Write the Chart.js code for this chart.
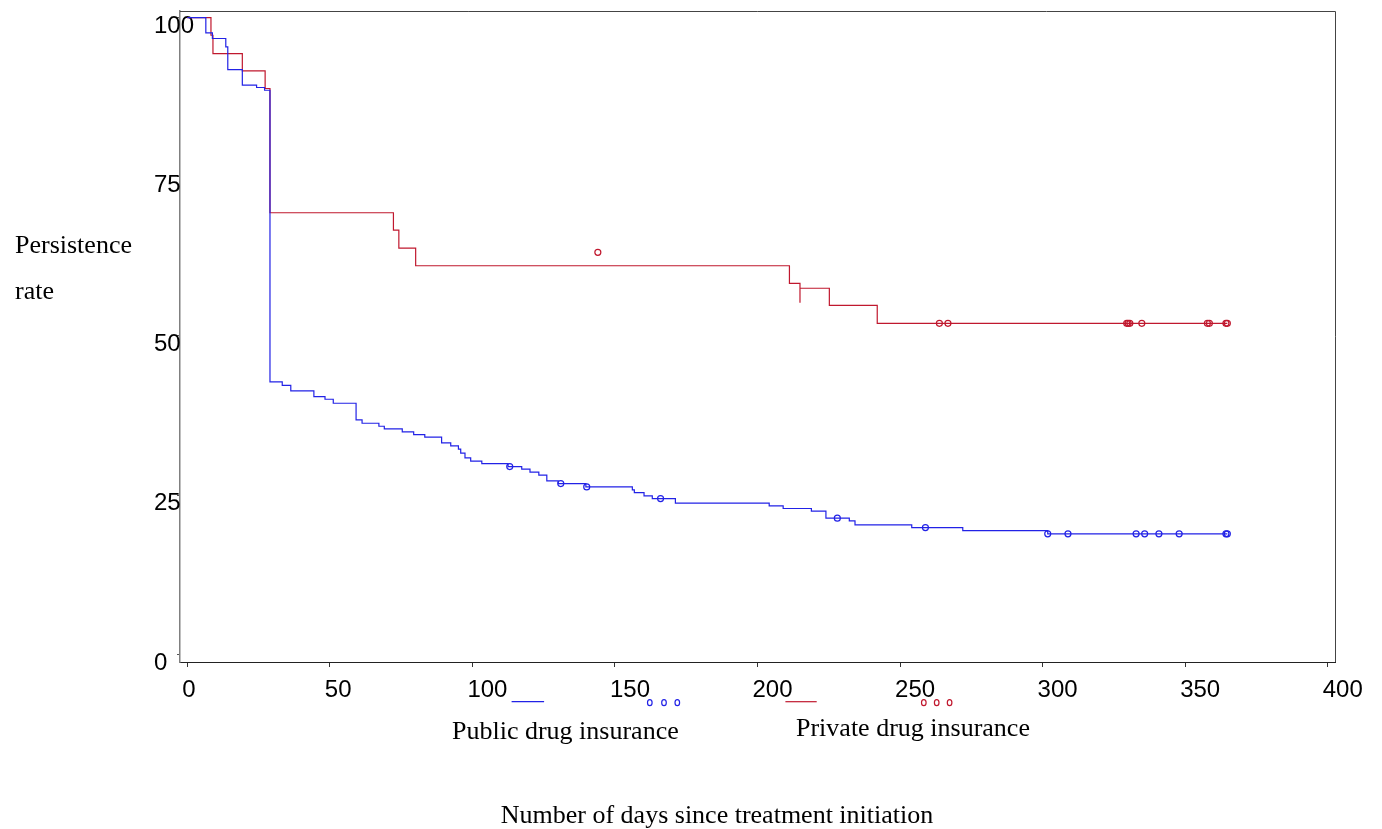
<!DOCTYPE html>
<html>
<head>
<meta charset="utf-8">
<title>Persistence rate by drug insurance</title>
<script src="https://cdn.jsdelivr.net/npm/chart.js@4.4.1/dist/chart.umd.min.js"></script>
<style>
  html, body { margin: 0; padding: 0; background: #fff; }
  #wrap { position: relative; width: 1382px; height: 829px; }
</style>
</head>
<body>
<div id="wrap"><canvas id="mychart" width="1382" height="829"></canvas></div>
<script>
// Kaplan-Meier steps (day, persistence %)
var publicDays = [0, 6.5, 8.8, 13.5, 14.2, 19.3, 24.3, 27.1, 29.0, 33.3, 36.3, 44.4, 48.3, 51.2,
  59.2, 61.3, 67.2, 69.1, 75.4, 79.4, 83.3, 89.2, 92.4, 95.1, 95.9, 97.4, 99.4, 103.3, 112.5,
  117.3, 120.2, 123.3, 126.1, 130.1, 139.8, 156.1, 156.8, 160.2, 163.1, 171.2, 204.1, 209.0,
  218.9, 224.0, 232.2, 234.2, 254.1, 272.0, 301.8, 364.8];
var publicRate = [100, 97.58, 96.71, 95.39, 91.84, 89.38, 89.02, 88.59, 42.78, 42.26, 41.37, 40.48, 40.07, 39.44,
  36.82, 36.30, 35.83, 35.41, 34.94, 34.52, 34.11, 33.22, 32.74, 32.22, 31.60, 30.86, 30.34, 29.97, 29.50,
  29.09, 28.62, 28.14, 27.25, 26.83, 26.30, 25.84, 25.42, 24.90, 24.47, 23.75, 23.33, 22.91,
  22.50, 21.40, 20.98, 20.35, 19.92, 19.45, 18.94, 18.94];
var publicCensorDays = [113.1, 131.0, 140.1, 166.0, 228.0, 258.9, 301.8, 308.9, 332.8, 335.8, 340.8, 347.9, 364.3, 364.8];
var publicCensorRate = [29.50, 26.83, 26.30, 24.47, 21.40, 19.92, 18.94, 18.94, 18.94, 18.94, 18.94, 18.94, 18.94, 18.94];

var privateDays = [0, 8.3, 9.0, 19.3, 27.3, 29.0, 72.3, 74.2, 80.1, 211.2, 214.9, 214.9, 225.2, 242.0, 364.8];
var privateRate = [100, 97.22, 94.35, 91.62, 88.86, 69.35, 66.63, 63.81, 61.03, 58.27, 55.22, 57.50, 54.82, 51.99, 51.99];
var privateCensorDays = [144.0, 263.8, 266.8, 329.5, 330.0, 330.6, 334.8, 357.8, 358.5, 364.3, 364.8];
var privateCensorRate = [63.13, 51.99, 51.99, 51.99, 51.99, 51.99, 51.99, 51.99, 51.99, 51.99, 51.99];

var xTicks = [0, 50, 100, 150, 200, 250, 300, 350, 400];
var yTicks = [0, 25, 50, 75, 100];
var seriesNames = ['Public drug insurance', 'Private drug insurance'];

var blue = '#2222e6';
var red = '#c0182e';

function toPoints(xs, ys) {
  return xs.map(function(x, i) { return {x: x, y: ys[i]}; });
}

// frame (top + right) and the SAS-like legend / titles
var extras = {
  id: 'extras',
  afterDraw: function(chart) {
    var ctx = chart.ctx;
    var a = chart.chartArea;
    ctx.save();
    ctx.strokeStyle = '#444';
    ctx.lineWidth = 1;
    ctx.beginPath();
    ctx.moveTo(a.left, a.top + 0.5);
    ctx.lineTo(a.right + 0.5, a.top + 0.5);
    ctx.lineTo(a.right + 0.5, a.bottom);
    ctx.stroke();

    // legend samples
    var items = [
      {color: blue, line: [511.6, 544.1], y: 701.7, dots: [649.8, 664, 677.3], text: seriesNames[0], tx: 452, ty: 739},
      {color: red, line: [785.4, 816.7], y: 701.7, dots: [923.8, 936.7, 949.6], text: seriesNames[1], tx: 796, ty: 736}
    ];
    items.forEach(function(it) {
      ctx.strokeStyle = it.color;
      ctx.lineWidth = 1.2;
      ctx.beginPath();
      ctx.moveTo(it.line[0], it.y);
      ctx.lineTo(it.line[1], it.y);
      ctx.stroke();
      it.dots.forEach(function(dx) {
        ctx.beginPath();
        ctx.ellipse(dx, it.y + 1, 2.3, 3, 0, 0, Math.PI * 2);
        ctx.stroke();
      });
      ctx.fillStyle = '#000';
      ctx.font = '26px "Liberation Serif", "Times New Roman", serif';
      ctx.textAlign = 'left';
      ctx.textBaseline = 'alphabetic';
      ctx.fillText(it.text, it.tx, it.ty);
    });

    ctx.fillStyle = '#000';
    ctx.font = '26px "Liberation Serif", "Times New Roman", serif';
    ctx.textAlign = 'left';
    ctx.fillText('Persistence', 15, 253);
    ctx.fillText('rate', 15, 299);
    ctx.textAlign = 'center';
    ctx.fillText('Number of days since treatment initiation', 717, 823);
    ctx.restore();
  }
};

var ctx = document.getElementById('mychart');
var myChart = new Chart(ctx, {
  type: 'line',
  data: {
    datasets: [
      {
        label: seriesNames[0],
        data: toPoints(publicDays, publicRate),
        borderColor: blue,
        borderWidth: 1.2,
        stepped: 'before',
        pointRadius: 0,
        fill: false
      },
      {
        label: seriesNames[1],
        data: toPoints(privateDays, privateRate),
        borderColor: red,
        borderWidth: 1.2,
        stepped: 'before',
        pointRadius: 0,
        fill: false
      },
      {
        type: 'scatter',
        label: seriesNames[0] + ' censored',
        data: toPoints(publicCensorDays, publicCensorRate),
        borderColor: blue,
        backgroundColor: 'rgba(0,0,0,0)',
        pointRadius: 3,
        pointBorderWidth: 1.2,
        showLine: false
      },
      {
        type: 'scatter',
        label: seriesNames[1] + ' censored',
        data: toPoints(privateCensorDays, privateCensorRate),
        borderColor: red,
        backgroundColor: 'rgba(0,0,0,0)',
        pointRadius: 3,
        pointBorderWidth: 1.2,
        showLine: false
      }
    ]
  },
  options: {
    responsive: false,
    animation: false,
    devicePixelRatio: 1,
    layout: { padding: { left: 154, right: 47, top: 11, bottom: 0 } },
    plugins: {
      legend: { display: false },
      tooltip: { enabled: false }
    },
    scales: {
      x: {
        type: 'linear',
        min: -2.56,
        max: 402.56,
        afterBuildTicks: function(s) { s.ticks = xTicks.map(function(v) { return {value: v}; }); },
        afterFit: function(s) { s.height = 167; s.paddingLeft = 0; s.paddingRight = 0; },
        ticks: {
          color: '#000',
          font: { family: '"Liberation Sans", Arial, sans-serif', size: 24 },
          align: 'start',
          labelOffset: -5,
          padding: 9,
          maxRotation: 0,
          autoSkip: false
        },
        grid: { drawOnChartArea: false, tickLength: 5, tickColor: '#333' },
        border: { color: '#222', width: 1 }
      },
      y: {
        type: 'linear',
        min: -1.19,
        max: 101.03,
        afterBuildTicks: function(s) { s.ticks = yTicks.map(function(v) { return {value: v}; }); },
        afterFit: function(s) { s.width = 26; s.paddingTop = 0; s.paddingBottom = 0; },
        ticks: {
          color: '#000',
          font: { family: '"Liberation Sans", Arial, sans-serif', size: 24 },
          // mirrored with negative padding so "100" can run over the axis line
          mirror: true,
          crossAlign: 'near',
          padding: -26,
          labelOffset: 8.5
        },
        grid: { drawOnChartArea: false, tickLength: 3, tickColor: '#555' },
        border: { color: '#808080', width: 1.5 }
      }
    }
  },
  plugins: [extras]
});
</script>
</body>
</html>
